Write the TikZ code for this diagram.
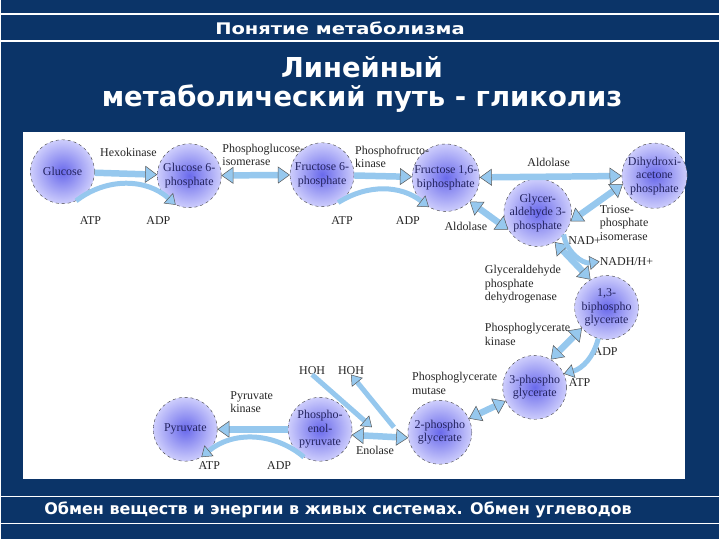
\documentclass[tikz,border=0pt]{standalone}
\usepackage{fontspec}
\setmainfont{Liberation Serif}
\newfontfamily\headfont{DejaVu Sans}
\usepackage{graphicx}
\usepackage{xcolor}
\usepackage{tikz}
\usetikzlibrary{arrows.meta, positioning}

\definecolor{slidebg}{RGB}{11,52,104}
\definecolor{flowc}{RGB}{150,200,238}
\definecolor{metatext}{RGB}{35,35,95}
\definecolor{ballin}{RGB}{105,105,235}
\definecolor{ballout}{RGB}{205,205,252}

\begin{document}
\begin{tikzpicture}[
    x=1pt, y=-1pt,
    metab/.style={circle, draw=black!75, dashed, minimum size=64pt, inner sep=0pt, inner color=ballin, outer color=ballout, text=metatext, align=center, font=\fontsize{12}{13.5}\selectfont},
    enzyme/.style={align=left, inner sep=0pt, text=black!85, font=\fontsize{12}{13.5}\selectfont},
    slidehead/.style={text=white, font=\headfont\bfseries\fontsize{16}{19}\selectfont},
    slidetitle/.style={text=white, inner sep=0pt, font=\headfont\bfseries\fontsize{27.5}{32}\selectfont},
    hrule/.style={draw=white, line width=1.2pt},
    flow/.style={line width=6.5pt, draw=flowc, -{Triangle[length=12pt, width=17pt, fill=flowc, color=black!65, line width=0.5pt]}},
    flowboth/.style={flow, {Triangle[length=12pt, width=17pt, fill=flowc, color=black!65, line width=0.5pt]}-{Triangle[length=12pt, width=17pt, fill=flowc, color=black!65, line width=0.5pt]}},
    cofac/.style={line width=5pt, draw=flowc, -{Triangle[length=10pt, width=14pt, fill=flowc, color=black!65, line width=0.5pt]}},
]
% slide frame
\fill[slidebg] (0,0) rectangle (720,540);
\fill[white] (22,132) rectangle (686,480);
\draw[hrule] (0,14) -- (720,14);
\draw[hrule] (0,41) -- (720,41);
\draw[hrule] (0,497) -- (720,497);
\draw[hrule] (0,524) -- (720,524);

\node[slidehead] (concept) at (340,28) {\scalebox{1.22}[1]{Понятие метаболизма}};
\node[slidetitle] (title1) at (362,67) {Линейный};
\node[slidetitle, below=7pt of title1] (title2) {метаболический путь - гликолиз};
\node[slidehead] (footer) at (338,511) {Обмен веществ и энергии в живых системах. Обмен углеводов};

% metabolites
\node[metab] (glc) at (62,172) {Glucose};
\node[metab] (g6p) at (189,176) {Glucose 6-\\phosphate};
\node[metab] (f6p) at (322,175) {Fructose 6-\\phosphate};
\node[metab] (f16bp) at (446,178) {Fructose 1,6-\\biphosphate};
\node[metab] (dhap) at (655,176) {Dihydroxi-\\acetone\\phosphate};
\node[metab] (g3p) at (538,213) {Glycer-\\aldehyde 3-\\phosphate};
\node[metab] (bpg) at (607,308) {1,3-\\biphospho\\glycerate};
\node[metab] (pg3) at (535,388) {3-phospho\\glycerate};
\node[metab] (pg2) at (440,433) {2-phospho\\glycerate};
\node[metab] (pep) at (320,430) {Phospho-\\enol-\\pyruvate};
\node[metab] (pyr) at (185,430) {Pyruvate};

% enzymes and cofactors
\node[enzyme] (hexo) at (128,153) {Hexokinase};
\node[enzyme, anchor=west] (pgi) at (222,155) {Phosphoglucose-\\isomerase};
\node[enzyme, anchor=west] (pfk) at (355,157) {Phosphofructo-\\kinase};
\node[enzyme] (aldo1) at (549,163) {Aldolase};
\node[enzyme] (aldo2) at (466,227) {Aldolase};
\node[enzyme, anchor=west] (tpi) at (600,223) {Triose-\\phosphate\\isomerase};
\node[enzyme] (nad) at (585,241) {NAD+};
\node[enzyme, anchor=west] (nadh) at (600,262) {NADH/H+};
\node[enzyme, anchor=west] (gapdh) at (485,285) {Glyceraldehyde\\phosphate\\dehydrogenase};
\node[enzyme, anchor=west] (pgk) at (485,335) {Phosphoglycerate\\kinase};
\node[enzyme] (adp3) at (606,352) {ADP};
\node[enzyme] (atp3) at (580,383) {ATP};
\node[enzyme, anchor=west] (pgm) at (412,384) {Phosphoglycerate\\mutase};
\node[enzyme] (hoh1) at (312,371) {HOH};
\node[enzyme] (hoh2) at (351,371) {HOH};
\node[enzyme, anchor=west] (pk) at (230,403) {Pyruvate\\kinase};
\node[enzyme] (enol) at (375,451) {Enolase};
\node[enzyme] (atp1) at (90,221) {ATP};
\node[enzyme] (adp1) at (158,221) {ADP};
\node[enzyme] (atp2) at (342,221) {ATP};
\node[enzyme] (adp2) at (408,221) {ADP};
\node[enzyme] (atp4) at (209,466) {ATP};
\node[enzyme] (adp4) at (279,466) {ADP};

% reactions
\draw[flow] (glc) -- (g6p);
\draw[cofac] (glc.-65) to[bend left=40] (g6p.-115);
\draw[flowboth] (g6p) -- (f6p);
\draw[flow] (f6p) -- (f16bp);
\draw[cofac] (f6p.-60) to[bend left=35] (f16bp.-120);
\draw[flowboth] (f16bp) -- (dhap);
\draw[flowboth] (f16bp.-45) -- (g3p.-150);
\draw[flowboth] (g3p.-15) -- (dhap.195);
\draw[flowboth] (g3p.-60) -- (bpg.120);
\draw[cofac] (g3p.-40) to[bend right=45] (nadh.west);
\draw[flowboth] (bpg.-140) -- (pg3.60);
\draw[cofac] (bpg.-105) to[bend left=30] (pg3.25);
\draw[flowboth] (pg3) -- (pg2);
\draw[flowboth] (pg2.190) -- (pep.-10);
\coordinate (enoin) at (372,428);
\coordinate (enoout) at (394,428);
\draw[cofac] (hoh1.south) -- (enoin);
\draw[cofac] (enoout) -- (hoh2.south);
\draw[flow] (pep) -- (pyr);
\draw[cofac] (pep.-120) to[bend right=40] (pyr.-60);
\end{tikzpicture}
\end{document}
